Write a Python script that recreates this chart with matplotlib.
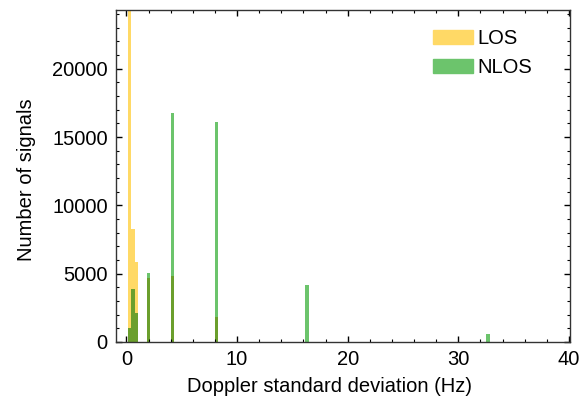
import matplotlib
matplotlib.use('Agg')
import matplotlib.pyplot as plt
import numpy as np
from matplotlib.patches import Patch

plt.rcParams['font.family'] = ['Liberation Sans', 'DejaVu Sans']
plt.rcParams['font.size'] = 14.5

# bin centres (Hz) and counts per bin
doppler_std = [0.28, 0.59, 0.90, 1.98, 4.15, 8.12, 16.33, 32.68]
los_counts = [30000, 8280, 5840, 4670, 4840, 1810, 0, 0]
nlos_counts = [1050, 3860, 2150, 5030, 16750, 16120, 4175, 560]

yellow = '#FFD966'
green = '#6CC46C'
olive = '#6B9F2D'
width = 0.31

fig = plt.figure(figsize=(5.79, 3.99), dpi=100)
ax = fig.add_axes([0.2003, 0.1429, 0.7841, 0.832])

overlap = np.minimum(los_counts, nlos_counts)
ax.bar(doppler_std, los_counts, width=width, color=yellow, linewidth=0)
ax.bar(doppler_std, nlos_counts, width=width, color=green, linewidth=0)
ax.bar(doppler_std, overlap, width=width, color=olive, linewidth=0)

ax.set_xlim(-0.95, 40.1)
ax.set_ylim(0, 24300)
ax.set_xticks([0, 10, 20, 30, 40])
ax.set_xticks(np.arange(0, 41, 2), minor=True)
ax.set_yticks([0, 5000, 10000, 15000, 20000])
ax.set_yticks(np.arange(0, 24001, 1000), minor=True)
ax.tick_params(which='both', direction='in', top=True, right=True)
ax.tick_params(which='major', length=4, width=1, pad=6, labelsize=14.5)
ax.tick_params(which='minor', length=2.5, width=0.8)
for s in ax.spines.values():
    s.set_linewidth(1)
    s.set_color('#333333')

ax.set_xlabel('Doppler standard deviation (Hz)', fontsize=14.5)
ax.set_ylabel('Number of signals', fontsize=14.5)
ax.xaxis.set_label_coords(0.471, -0.105)
ax.yaxis.set_label_coords(-0.176, 0.49)

handles = [Patch(color=yellow, label='LOS'), Patch(color=green, label='NLOS')]
ax.legend(handles=handles, loc='upper left', frameon=False, fontsize=14.5,
          handlelength=2.0, handleheight=0.7, handletextpad=0.2,
          borderpad=0, borderaxespad=0, labelspacing=0.5,
          bbox_to_anchor=(0.698, 0.942))

fig.savefig('out.png', dpi=100)
